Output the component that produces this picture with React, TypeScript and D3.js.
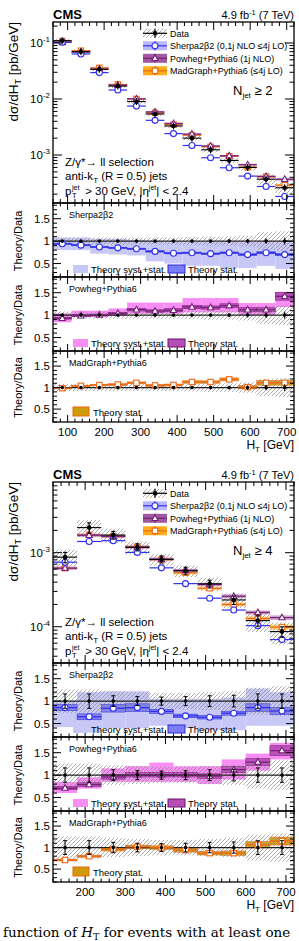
import * as d3 from "d3";

const FONT = "'Liberation Sans', Arial, Helvetica, sans-serif";

// ---- N_jet >= 2 ----
const nj2Edges = [60, 111, 162, 212, 263, 314, 365, 415, 466, 517, 568, 618, 669, 720];
const nj2Data = [0.110, 0.070, 0.034, 0.017, 0.0090, 0.0054, 0.0033, 0.0020, 0.00124, 0.00080, 0.00060, 0.00037, 0.00026];
const nj2Stat = [0.01, 0.01, 0.01, 0.01, 0.015, 0.02, 0.02, 0.03, 0.03, 0.04, 0.05, 0.06, 0.08];
const nj2Syst = [0.08, 0.08, 0.08, 0.08, 0.08, 0.08, 0.08, 0.09, 0.1, 0.1, 0.12, 0.2, 0.22];
const nj2Sherpa = [0.1034, 0.0637, 0.0296, 0.01445, 0.00747, 0.00416, 0.00241, 0.00148, 0.000893, 0.000592, 0.00042, 0.000274, 0.000182];
const nj2Powheg = [0.1023, 0.069, 0.034, 0.01768, 0.01008, 0.00589, 0.00366, 0.00236, 0.00145, 0.000968, 0.000672, 0.000414, 0.000369];
const nj2Madgraph = [0.1084, 0.0728, 0.036, 0.0182, 0.00999, 0.00567, 0.0035, 0.00226, 0.0014, 0.000952, 0.000606, 0.000411, 0.000289];
// theory/data bands (syst+stat) and relative theory stat
const nj2SherpaLo = [0.8, 0.8, 0.72, 0.7, 0.68, 0.55, 0.5, 0.45, 0.45, 0.4, 0.4, 0.45, 0.38];
const nj2SherpaHi = [1.08, 1.08, 1.05, 1.05, 1.03, 1.0, 0.98, 0.98, 0.98, 1.0, 0.98, 1.0, 1.0];
const nj2SherpaStat = [0.015, 0.015, 0.015, 0.015, 0.015, 0.02, 0.02, 0.02, 0.02, 0.025, 0.025, 0.03, 0.03];
const nj2PowhegLo = [0.84, 0.96, 0.96, 0.98, 1.03, 1.03, 1.03, 1.06, 1.06, 1.06, 1.0, 1.0, 1.18];
const nj2PowhegHi = [1.04, 1.1, 1.1, 1.15, 1.28, 1.28, 1.28, 1.38, 1.38, 1.38, 1.27, 1.27, 1.52];
const nj2PowhegStat = [0.02, 0.02, 0.02, 0.02, 0.025, 0.025, 0.03, 0.03, 0.03, 0.035, 0.04, 0.04, 0.06];
const nj2MadgraphStat = [0.015, 0.015, 0.015, 0.02, 0.02, 0.02, 0.02, 0.025, 0.025, 0.03, 0.04, 0.05, 0.05];

// ---- N_jet >= 4 ----
const nj4Edges = [120, 180, 240, 300, 360, 420, 480, 540, 600, 660, 720];
const nj4Data = [8.7e-4, 2.18e-3, 1.73e-3, 1.18e-3, 8.1e-4, 5.7e-4, 3.8e-4, 2.3e-4, 1.21e-4, 8.6e-5];
const nj4Stat = [0.16, 0.16, 0.12, 0.1, 0.09, 0.1, 0.12, 0.13, 0.16, 0.16];
const nj4Syst = [0.26, 0.26, 0.22, 0.2, 0.18, 0.18, 0.2, 0.22, 0.3, 0.33];
const nj4Sherpa = [7.44e-4, 1.417e-3, 1.453e-3, 1.009e-3, 6.24e-4, 3.82e-4, 2.43e-4, 1.68e-4, 1.035e-4, 6.71e-5];
const nj4Powheg = [6.18e-4, 1.72e-3, 1.66e-3, 1.19e-3, 8.18e-4, 5.76e-4, 3.72e-4, 2.58e-4, 1.56e-4, 1.33e-4];
const nj4Madgraph = [6.18e-4, 1.744e-3, 1.66e-3, 1.2e-3, 8.1e-4, 5.36e-4, 3.31e-4, 2.0e-4, 1.29e-4, 9.9e-5];
const nj4SherpaLo = [0.42, 0.3, 0.4, 0.4, 0.45, 0.4, 0.35, 0.35, 0.45, 0.45];
const nj4SherpaHi = [1.0, 1.2, 1.22, 1.22, 1.05, 1.05, 1.05, 1.08, 1.28, 1.2];
const nj4SherpaStat = [0.08, 0.1, 0.1, 0.1, 0.06, 0.06, 0.06, 0.06, 0.1, 0.1];
const nj4PowhegLo = [0.6, 0.7, 0.85, 0.85, 0.85, 0.85, 0.8, 0.9, 1.1, 1.35];
const nj4PowhegHi = [0.85, 0.95, 1.15, 1.2, 1.28, 1.2, 1.2, 1.35, 1.48, 1.72];
const nj4PowhegStat = [0.05, 0.05, 0.05, 0.05, 0.05, 0.05, 0.05, 0.06, 0.06, 0.07];
const nj4MadgraphStat = [0.03, 0.03, 0.04, 0.04, 0.04, 0.05, 0.05, 0.06, 0.07, 0.08];

// frame layout (relative to each figure's top)
const L = 53;
const R = 294;
const MAIN_TOP = 22;
const MAIN_BOT = 203;
const PANELS: [number, number][] = [[203, 277], [277, 351], [351, 422]];
const RATIO_DOMAIN = [0.2, 1.85];

const SHERPA = { kind: "circle", line: "#3030ee", band: "#c8c8f7", stat: "#7c7cf4", edge: "#2a2ad8", legend: "#b8b8fb" };
const POWHEG = { kind: "triangle", line: "#7a1f7a", band: "#f88ef3", stat: "#b54db5", edge: "#6a146a", legend: "#a058a0" };
const MADGRAPH = { kind: "square", line: "#ef6412", band: "", stat: "#cf9b08", edge: "#ef6412", legend: "#ffae1a" };

type Style = typeof SHERPA;

const Marker = ({ kind, cx, cy, color }: { kind: string; cx: number; cy: number; color: string }) => {
     if (kind === "circle") return <circle cx={cx} cy={cy} r={3} fill="white" stroke={color} strokeWidth={1.1} />;
     if (kind === "triangle")
          return <path d={`M${cx},${cy - 3.4}L${cx + 3.1},${cy + 2.2}L${cx - 3.1},${cy + 2.2}Z`} fill="white" stroke={color} strokeWidth={1.1} />;
     return <rect x={cx - 2.7} y={cy - 2.7} width={5.4} height={5.4} fill="white" stroke={color} strokeWidth={1.1} />;
};

// x ticks every 20 GeV, longer every 100 GeV, on top and bottom of a frame
const xTicks = (x: d3.ScaleLinear<number, number>, top: number, bottom: number, major: number, minor: number) => {
     const [a, b] = x.domain();
     return d3.range(Math.ceil(a / 20) * 20, b + 0.01, 20).map((t) => {
          const len = t % 100 === 0 ? major : minor;
          const px = x(t);
          return (
               <g key={"xt" + t}>
                    <line x1={px} x2={px} y1={bottom} y2={bottom - len} />
                    <line x1={px} x2={px} y1={top} y2={top + len} />
               </g>
          );
     });
};

type FigProps = {
     oy: number;
     edges: number[];
     data: number[];
     stat: number[];
     syst: number[];
     sherpa: number[];
     powheg: number[];
     madgraph: number[];
     sherpaLo: number[];
     sherpaHi: number[];
     sherpaStat: number[];
     powhegLo: number[];
     powhegHi: number[];
     powhegStat: number[];
     madgraphStat: number[];
     yDomain: [number, number];
     nJet: string;
     caps: boolean;
};

const MainPanel = (props: FigProps & { x: d3.ScaleLinear<number, number> }) => {
     const { oy, edges, data, stat, syst, sherpa, powheg, madgraph, powhegStat, madgraphStat, yDomain, nJet, x, caps } = props;
     const y = d3.scaleLog().domain(yDomain).range([oy + MAIN_BOT, oy + MAIN_TOP]);
     const bins = data.map((d, i) => ({ i, d, x0: x(edges[i]), x1: x(edges[i + 1]), xc: x((edges[i] + edges[i + 1]) / 2) }));

     const [lo, hi] = yDomain;
     const logT: { v: number; major: boolean }[] = [];
     for (let e = Math.floor(Math.log10(lo)); e <= Math.ceil(Math.log10(hi)); e++) {
          for (let k = 1; k <= 9; k++) {
               const v = k * Math.pow(10, e);
               if (v >= lo && v <= hi) logT.push({ v, major: k === 1 });
          }
     }
     const clipId = "mainclip" + oy;

     const theory = (vals: number[], relStat: number[] | null, st: Style) =>
          bins.map((b) => (
               <g key={st.kind + b.i}>
                    {relStat && (
                         <rect x={b.x0} width={b.x1 - b.x0} y={y(vals[b.i] * (1 + relStat[b.i]))}
                              height={y(vals[b.i] * (1 - relStat[b.i])) - y(vals[b.i] * (1 + relStat[b.i]))}
                              fill={st.legend} opacity={0.55} />
                    )}
                    <line x1={b.x0} x2={b.x1} y1={y(vals[b.i])} y2={y(vals[b.i])} stroke={st.line} strokeWidth={1.2} />
                    <Marker kind={st.kind} cx={b.xc} cy={y(vals[b.i])} color={st.line} />
               </g>
          ));

     return (
          <g>
               <clipPath id={clipId}>
                    <rect x={L} y={oy + MAIN_TOP} width={R - L} height={MAIN_BOT - MAIN_TOP} />
               </clipPath>
               <g clipPath={`url(#${clipId})`}>
                    {bins.map((b) => (
                         <rect key={"h" + b.i} x={b.x0} width={b.x1 - b.x0} y={y(b.d * (1 + syst[b.i]))}
                              height={y(b.d * (1 - syst[b.i])) - y(b.d * (1 + syst[b.i]))} fill="url(#hatch)" />
                    ))}
                    {theory(madgraph, madgraphStat, MADGRAPH)}
                    {theory(powheg, powhegStat, POWHEG)}
                    {theory(sherpa, null, SHERPA)}
                    {bins.map((b) => {
                         const yc = y(b.d);
                         const yt = Math.min(y(b.d * (1 + stat[b.i])), yc - 3.5);
                         const yb = Math.max(y(b.d * (1 - stat[b.i])), yc + 3.5);
                         return (
                              <g key={"d" + b.i} stroke="black" strokeWidth={1.1}>
                                   <line x1={b.x0} x2={b.x1} y1={yc} y2={yc} />
                                   <line x1={b.xc} x2={b.xc} y1={yt} y2={yb} />
                                   {caps && <line x1={b.xc - 2} x2={b.xc + 2} y1={yt} y2={yt} />}
                                   {caps && <line x1={b.xc - 2} x2={b.xc + 2} y1={yb} y2={yb} />}
                                   <circle cx={b.xc} cy={yc} r={2.3} fill="black" stroke="none" />
                              </g>
                         );
                    })}
               </g>
               <g stroke="black" strokeWidth={1}>
                    {logT.map((t) => {
                         const len = t.major ? 9 : 4.5;
                         return (
                              <g key={"lt" + t.v}>
                                   <line x1={L} x2={L + len} y1={y(t.v)} y2={y(t.v)} />
                                   <line x1={R} x2={R - len} y1={y(t.v)} y2={y(t.v)} />
                              </g>
                         );
                    })}
                    {xTicks(x, oy + MAIN_TOP, oy + MAIN_BOT, 8, 4)}
               </g>
               {logT.filter((t) => t.major).map((t) => (
                    <text key={"ll" + t.v} x={50} y={y(t.v) + 4} textAnchor="end" fontSize={11.5}>
                         10<tspan dy={-5} fontSize={8}>{Math.round(Math.log10(t.v))}</tspan>
                    </text>
               ))}
               <rect x={L} y={oy + MAIN_TOP} width={R - L} height={MAIN_BOT - MAIN_TOP} fill="none" stroke="black" strokeWidth={1.3} />

               <text transform={`translate(18,${oy + 22}) rotate(-90)`} textAnchor="end" fontSize={13.5}>
                    dσ/dH<tspan dy={3} fontSize={9}>T</tspan><tspan dy={-3}> [pb/GeV]</tspan>
               </text>
               <text x={L} y={oy + 18.5} fontSize={13} fontWeight="bold">CMS</text>
               <text x={R} y={oy + 18.5} fontSize={11} textAnchor="end">
                    4.9 fb<tspan dy={-4} fontSize={7.5}>-1</tspan><tspan dy={4}> (7 TeV)</tspan>
               </text>

               <Legend oy={oy} />

               <text x={233} y={oy + 95} fontSize={13}>
                    N<tspan dy={3} fontSize={8}>jet</tspan><tspan dy={-3}> ≥ {nJet}</tspan>
               </text>
               <g fontSize={11.5}>
                    <text x={65} y={oy + 166}>Z/γ*→ ll selection</text>
                    <text x={65} y={oy + 180}>
                         anti-k<tspan dy={3} fontSize={8}>T</tspan><tspan dy={-3}> (R = 0.5) jets</tspan>
                    </text>
                    <text x={65} y={oy + 195}>
                         p<tspan x={72} dy={-5} fontSize={7}>jet</tspan>
                         <tspan x={72} dy={8} fontSize={7.5}>T</tspan>
                         <tspan x={82} dy={-3}>{" > 30 GeV, |η"}</tspan>
                         <tspan dy={-5} fontSize={7}>jet</tspan>
                         <tspan dy={5}>{"| < 2.4"}</tspan>
                    </text>
               </g>
          </g>
     );
};

const Legend = ({ oy }: { oy: number }) => {
     const rows = [
          { label: "Data", st: null as Style | null, cy: 33.3 },
          { label: "Sherpa2β2 (0,1j NLO ≤4j LO)", st: SHERPA, cy: 45.8 },
          { label: "Powheg+Pythia6 (1j NLO)", st: POWHEG, cy: 58.3 },
          { label: "MadGraph+Pythia6 (≤4j LO)", st: MADGRAPH, cy: 70.8 },
     ];
     const x0 = 143;
     const x1 = 167;
     const xc = (x0 + x1) / 2;
     return (
          <g>
               {rows.map((r) => {
                    const cy = oy + r.cy;
                    const color = r.st ? r.st.line : "black";
                    return (
                         <g key={r.label}>
                              <rect x={x0} y={cy - 4.5} width={x1 - x0} height={9} fill={r.st ? r.st.legend : "url(#hatch)"} />
                              <line x1={x0} x2={x1} y1={cy} y2={cy} stroke={color} strokeWidth={1.2} />
                              <line x1={xc} x2={xc} y1={cy - 4.5} y2={cy + 4.5} stroke={color} strokeWidth={1.2} />
                              {r.st ? <Marker kind={r.st.kind} cx={xc} cy={cy} color={color} /> : <circle cx={xc} cy={cy} r={2.3} fill="black" />}
                              <text x={170} y={cy + 3.2} fontSize={9}>{r.label}</text>
                         </g>
                    );
               })}
          </g>
     );
};

type RatioProps = {
     oy: number;
     idx: number;
     x: d3.ScaleLinear<number, number>;
     edges: number[];
     data: number[];
     stat: number[];
     syst: number[];
     theory: number[];
     lo: number[] | null;
     hi: number[] | null;
     tstat: number[];
     st: Style;
     name: string;
     caps: boolean;
};

const RatioPanel = ({ oy, idx, x, edges, data, stat, syst, theory, lo, hi, tstat, st, name, caps }: RatioProps) => {
     const [top, bot] = PANELS[idx].map((v) => v + oy);
     const y = d3.scaleLinear().domain(RATIO_DOMAIN).range([bot, top]);
     const bins = data.map((d, i) => ({ i, r: theory[i] / d, x0: x(edges[i]), x1: x(edges[i + 1]), xc: x((edges[i] + edges[i + 1]) / 2) }));
     const clipId = `rclip${oy}_${idx}`;
     const yTicks = d3.range(2, 19).map((v) => v / 10);
     const last = idx === 2;
     return (
          <g>
               <clipPath id={clipId}>
                    <rect x={L} y={top} width={R - L} height={bot - top} />
               </clipPath>
               <g clipPath={`url(#${clipId})`}>
                    {lo && hi && bins.map((b) => (
                         <rect key={"b" + b.i} x={b.x0} width={b.x1 - b.x0} y={y(hi[b.i])} height={y(lo[b.i]) - y(hi[b.i])} fill={st.band} />
                    ))}
                    {bins.map((b) => (
                         <rect key={"s" + b.i} x={b.x0} width={b.x1 - b.x0} y={y(b.r * (1 + tstat[b.i]))}
                              height={y(b.r * (1 - tstat[b.i])) - y(b.r * (1 + tstat[b.i]))}
                              fill={st.stat} stroke={st.edge} strokeWidth={0.6} opacity={0.9} />
                    ))}
                    {bins.map((b) => (
                         <rect key={"h" + b.i} x={b.x0} width={b.x1 - b.x0} y={y(1 + syst[b.i])}
                              height={y(1 - syst[b.i]) - y(1 + syst[b.i])} fill="url(#hatch)" />
                    ))}
                    <line x1={L} x2={R} y1={y(1)} y2={y(1)} stroke="#222" strokeWidth={1.2} />
                    {bins.map((b) => (
                         <g key={"t" + b.i}>
                              <line x1={b.x0} x2={b.x1} y1={y(b.r)} y2={y(b.r)} stroke={st.line} strokeWidth={1.3} />
                              <Marker kind={st.kind} cx={b.xc} cy={y(b.r)} color={st.line} />
                         </g>
                    ))}
                    {bins.map((b) => {
                         const yt = y(1 + stat[b.i]);
                         const yb = y(1 - stat[b.i]);
                         return (
                              <g key={"e" + b.i} stroke="black" strokeWidth={1}>
                                   <line x1={b.xc} x2={b.xc} y1={yt} y2={yb} />
                                   {caps && <line x1={b.xc - 2} x2={b.xc + 2} y1={yt} y2={yt} />}
                                   {caps && <line x1={b.xc - 2} x2={b.xc + 2} y1={yb} y2={yb} />}
                                   <circle cx={b.xc} cy={y(1)} r={1.8} fill="black" stroke="none" />
                              </g>
                         );
                    })}
               </g>
               <g stroke="black" strokeWidth={1}>
                    {yTicks.map((t) => {
                         const major = Math.abs(t * 2 - Math.round(t * 2)) < 1e-6;
                         const len = major ? 8 : 4;
                         return (
                              <g key={"yt" + t}>
                                   <line x1={L} x2={L + len} y1={y(t)} y2={y(t)} />
                                   <line x1={R} x2={R - len} y1={y(t)} y2={y(t)} />
                              </g>
                         );
                    })}
                    {xTicks(x, top, bot, 7, 3.5)}
               </g>
               {[0.5, 1, 1.5].map((t) => (
                    <text key={"yl" + t} x={50} y={y(t) + 4} textAnchor="end" fontSize={11.5}>{t}</text>
               ))}
               <rect x={L} y={top} width={R - L} height={bot - top} fill="none" stroke="black" strokeWidth={1.3} />
               <text transform={`translate(22,${(top + bot) / 2 + 1}) rotate(-90)`} textAnchor="middle" fontSize={11}>Theory/Data</text>
               <text x={69} y={top + 14.5} fontSize={9}>{name}</text>
               {lo ? (
                    <g fontSize={9.5}>
                         <rect x={73} y={top + 62} width={15} height={8} fill={st.band} />
                         <text x={91} y={top + 70}>Theory syst.+stat.</text>
                         <rect x={168} y={top + 62} width={17} height={8} fill={st.stat} stroke={st.edge} strokeWidth={1} />
                         <text x={188} y={top + 70}>Theory stat.</text>
                    </g>
               ) : (
                    <g fontSize={9.5}>
                         <rect x={73} y={top + 56} width={16} height={9} fill={st.stat} stroke={st.edge} strokeWidth={1} />
                         <text x={93} y={top + 64.5}>Theory stat.</text>
                    </g>
               )}
               {last && (
                    <g fontSize={11.5}>
                         {x.ticks(7).filter((t) => t % 100 === 0).map((t) => (
                              <text key={"xl" + t} x={x(t)} y={oy + 436} textAnchor="middle">{t}</text>
                         ))}
                         <text x={R} y={oy + 449} textAnchor="end" fontSize={12}>
                              H<tspan dy={3} fontSize={8}>T</tspan><tspan dy={-3}> [GeV]</tspan>
                         </text>
                    </g>
               )}
          </g>
     );
};

const Figure = (props: FigProps) => {
     const { oy, edges, data, stat, syst, caps } = props;
     const x = d3.scaleLinear().domain([edges[0], edges[edges.length - 1]]).range([L, R]);
     const common = { oy, x, edges, data, stat, syst, caps };
     return (
          <g>
               <MainPanel {...props} x={x} />
               <RatioPanel {...common} idx={0} theory={props.sherpa} lo={props.sherpaLo} hi={props.sherpaHi} tstat={props.sherpaStat} st={SHERPA} name="Sherpa2β2" />
               <RatioPanel {...common} idx={1} theory={props.powheg} lo={props.powhegLo} hi={props.powhegHi} tstat={props.powhegStat} st={POWHEG} name="Powheg+Pythia6" />
               <RatioPanel {...common} idx={2} theory={props.madgraph} lo={null} hi={null} tstat={props.madgraphStat} st={MADGRAPH} name="MadGraph+Pythia6" />
          </g>
     );
};

export default function App() {
     return (
          <svg width={299} height={941} style={{ position: "absolute", left: 0, top: 0, background: "white" }} fontFamily={FONT}>
               <defs>
                    <pattern id="hatch" patternUnits="userSpaceOnUse" width={4} height={4}>
                         <path d="M-1,1 l2,-2 M0,4 l4,-4 M3,5 l2,-2" stroke="#8a8a8a" strokeWidth={0.7} />
                    </pattern>
               </defs>
               <Figure
                    oy={0} edges={nj2Edges} data={nj2Data} stat={nj2Stat} syst={nj2Syst}
                    sherpa={nj2Sherpa} powheg={nj2Powheg} madgraph={nj2Madgraph}
                    sherpaLo={nj2SherpaLo} sherpaHi={nj2SherpaHi} sherpaStat={nj2SherpaStat}
                    powhegLo={nj2PowhegLo} powhegHi={nj2PowhegHi} powhegStat={nj2PowhegStat}
                    madgraphStat={nj2MadgraphStat} yDomain={[1.39e-4, 0.237]} nJet="2" caps={false}
               />
               <Figure
                    oy={460} edges={nj4Edges} data={nj4Data} stat={nj4Stat} syst={nj4Syst}
                    sherpa={nj4Sherpa} powheg={nj4Powheg} madgraph={nj4Madgraph}
                    sherpaLo={nj4SherpaLo} sherpaHi={nj4SherpaHi} sherpaStat={nj4SherpaStat}
                    powhegLo={nj4PowhegLo} powhegHi={nj4PowhegHi} powhegStat={nj4PowhegStat}
                    madgraphStat={nj4MadgraphStat} yDomain={[3.24e-5, 9.0e-3]} nJet="4" caps={true}
               />
               <text x={3} y={937} fontFamily="'DejaVu Serif', 'Liberation Serif', serif" fontSize={13.5}>
                    function of <tspan fontStyle="italic">H</tspan><tspan fontSize={9.5} dy={3}>T</tspan><tspan dy={-3}> for events with at least one</tspan>
               </text>
          </svg>
     );
}
